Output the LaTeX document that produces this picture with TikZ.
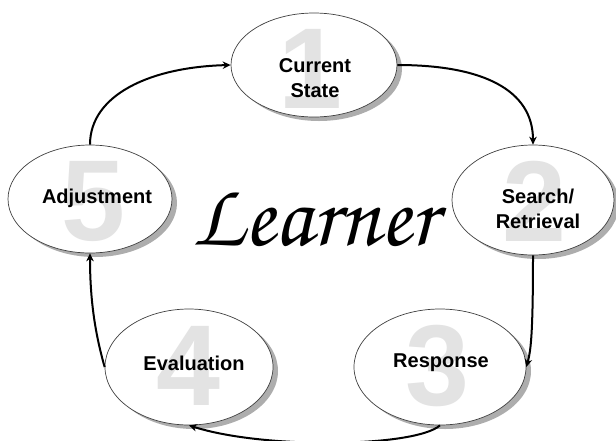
\documentclass[tikz,border=0pt]{standalone}
\usepackage[T1]{fontenc}
\usepackage{fontspec}
\setmainfont{Liberation Sans}
\usetikzlibrary{shapes.geometric,shadows,arrows.meta}
\tikzset{
  stage/.style={ellipse, draw=black!75, line width=0.7pt, fill=white, inner sep=0pt,
    drop shadow={shadow xshift=5pt, shadow yshift=-4pt, opacity=1, fill=black!32}},
  bignum/.style={inner sep=0pt, text=black!11, font=\fontsize{115}{115}\selectfont\bfseries},
  lbl/.style={inner sep=0pt, align=center, font=\fontsize{20}{25}\selectfont\bfseries},
  arr/.style={line width=2pt, -{Stealth[length=8pt,width=7.5pt]}}
}
\begin{document}
\begin{tikzpicture}[x=1pt,y=-1pt]
\useasboundingbox (0,0) rectangle (616,440);
% ellipses
\node[stage, minimum width=166pt, minimum height=104pt] (e1) at (314,65) {};
\node[stage, minimum width=162pt, minimum height=110pt] (e2) at (533,200) {};
\node[stage, minimum width=172pt, minimum height=116pt] (e3) at (440,367) {};
\node[stage, minimum width=168pt, minimum height=116pt] (e4) at (189,367) {};
\node[stage, minimum width=164pt, minimum height=108pt] (e5) at (90,199) {};
% digits
\node[bignum] (n1) at (310,69) {1};
\node[bignum] (n2) at (534,201) {2};
\node[bignum] (n3) at (437,366) {3};
\node[bignum] (n4) at (188,366) {4};
\node[bignum] (n5) at (93,201) {5};
% labels
\node[lbl] (t1) at (315,78) {Current\\State};
\node[lbl] (t2) at (538,209) {Search/\\Retrieval};
\node[lbl] (t3) at (441,363) {Response};
\node[lbl] (t4) at (194,363) {Evaluation};
\node[lbl] (t5) at (97,198) {Adjustment};
% center title
\node[inner sep=0pt] (learner) at (315,218)
  {\resizebox{244pt}{56pt}{\fontencoding{T1}\fontfamily{pzc}\fontseries{mb}\fontshape{it}\selectfont Learner}};
% connectors
\draw[arr] (e5.north) .. controls +(0,-50) and +(-80,2) .. (e1.west);
\draw[arr] (e1.east) .. controls +(85,0) and +(0,-55) .. (e2.north);
\draw[arr] (e2.south) .. controls +(0,85) and +(4,-15) .. (e3.east);
\draw[arr] (e3.south) .. controls +(-25,22) and +(75,24) .. (e4.south);
\draw[arr] (e4.west) .. controls +(-10,-35) and +(0,45) .. (e5.south);
\end{tikzpicture}
\end{document}
